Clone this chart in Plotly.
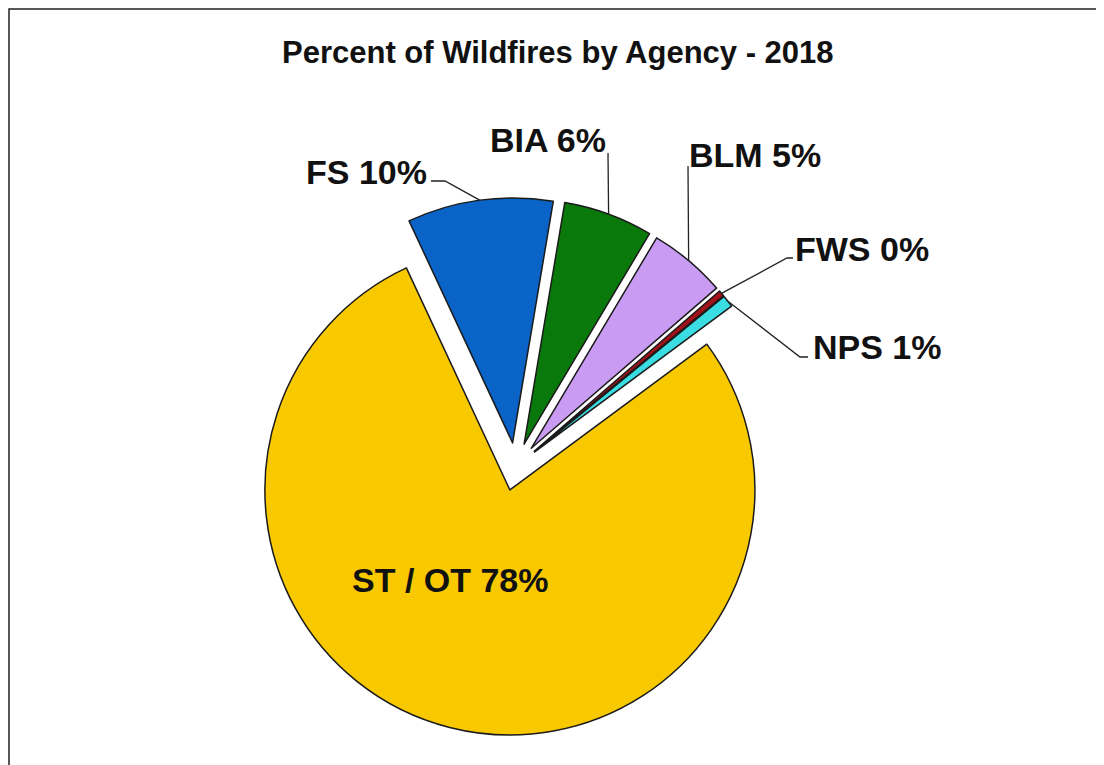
import numpy as np
import plotly.graph_objects as go

# ---- data ----
agencies = ["FS", "BIA", "BLM", "FWS", "NPS", "ST / OT"]
percent_values = [9.6, 5.9, 5.1, 0.4, 0.8, 78.2]
slice_colors = ["#0A63C6", "#0A790C", "#C99BF3", "#A2121A", "#3ADDE2", "#F9C900"]
label_texts = [f"{a} {round(v)}%" for a, v in zip(agencies, percent_values)]

# ---- layout constants (pixels, screenshot coordinates) ----
OFF = 8  # page body margin
W, H = 1104 - OFF, 765 - OFF  # figure fits inside the window
CX, CY = 515.8, 466.7
R = 245
PULL = 0.098
ROT = -25
half = R * (1 + PULL)


def px(x, y):
    return (x - OFF) / W, 1 - (y - OFF) / H


dom_x = [px(CX - half, 0)[0], px(CX + half, 0)[0]]
dom_y = [px(0, CY + half)[1], px(0, CY - half)[1]]

# label placement: text centre, leader start, elbow (None = inside label, no leader)
label_layout = {
    "FS": ((366, 172), (431, 181), (445, 181)),
    "BIA": ((548, 140), (608, 153), (608, 153)),
    "BLM": ((755, 155), (688, 166), (688, 166)),
    "FWS": ((862, 249), (793, 258), (787, 258)),
    "NPS": ((877, 347), (808, 357), (800, 357)),
    "ST / OT": ((450, 580), None, None),
}

fig = go.Figure()
fig.add_trace(go.Pie(
    labels=agencies,
    values=percent_values,
    sort=False,
    direction="clockwise",
    rotation=ROT,
    pull=[PULL] * len(agencies),
    marker=dict(colors=slice_colors, line=dict(color="#1a1a1a", width=1.5)),
    textinfo="none",
    hoverinfo="label+percent",
    showlegend=False,
    domain=dict(x=dom_x, y=dom_y),
))

# compute slice mid angles from data
vals = np.array(percent_values, dtype=float)
frac = vals / vals.sum() * 360.0
starts = ROT + np.cumsum(frac) - frac
mids = starts + frac / 2.0

annotations = []
shapes = []
for name, txt, mid in zip(agencies, label_texts, mids):
    (tx, ty), start, elbow = label_layout[name]
    ax, ay = px(tx, ty)
    annotations.append(dict(
        x=ax, y=ay, xref="paper", yref="paper", text=f"<b>{txt}</b>",
        showarrow=False, xanchor="center", yanchor="middle",
        font=dict(family="Liberation Sans, Arial, sans-serif", size=34, color="#111"),
    ))
    if start is not None:
        th = np.deg2rad(mid)
        tipx = CX + half * np.sin(th)
        tipy = CY - half * np.cos(th)
        p0 = px(*start)
        p1 = px(*elbow)
        p2 = px(tipx, tipy)
        shapes.append(dict(
            type="path", xref="paper", yref="paper",
            path=f"M {p0[0]} {p0[1]} L {p1[0]} {p1[1]} L {p2[0]} {p2[1]}",
            line=dict(color="#222", width=1.3),
        ))

# outer frame: only left and top edges are inside the picture
fx0, fy1 = px(9, 9)
shapes.append(dict(
    type="path", xref="paper", yref="paper",
    path=f"M {fx0} -0.05 L {fx0} {fy1} L 1.05 {fy1}",
    line=dict(color="#222", width=1.5),
))

tx, ty = px(558, 53)
annotations.append(dict(
    x=tx, y=ty, xref="paper", yref="paper",
    text="<b>Percent of Wildfires by Agency - 2018</b>", showarrow=False,
    xanchor="center", yanchor="middle",
    font=dict(family="Liberation Sans, Arial, sans-serif", size=31, color="#111"),
))

fig.update_layout(
    width=W, height=H,
    margin=dict(l=0, r=0, t=0, b=0),
    paper_bgcolor="white", plot_bgcolor="white",
    annotations=annotations, shapes=shapes,
)

fig.write_html("out.html")
